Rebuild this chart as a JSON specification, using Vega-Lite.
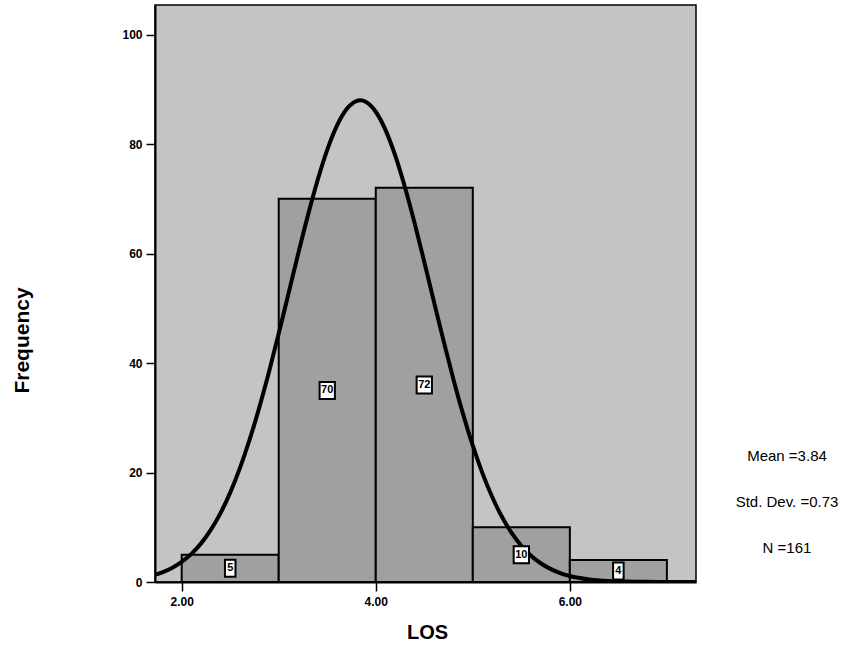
{
  "$schema": "https://vega.github.io/schema/vega-lite/v6.json",
  "autosize": "none",
  "padding": {"left": 155, "top": 5, "right": 148, "bottom": 66},
  "width": 541,
  "height": 577,
  "background": "white",
  "config": {
    "font": "Liberation Sans",
    "view": {"fill": "#c4c4c4", "stroke": "black", "strokeWidth": 1.5},
    "axis": {
      "grid": false,
      "domainColor": "black",
      "domainWidth": 2,
      "tickColor": "black",
      "tickWidth": 1.5,
      "labelColor": "black",
      "labelFont": "Liberation Sans",
      "labelFontSize": 12,
      "labelFontWeight": "bold",
      "titleFont": "Liberation Sans",
      "titleColor": "black",
      "titleFontWeight": "bold"
    }
  },
  "title": {
    "text": ["Mean =3.84", "Std. Dev. =0.73", "N =161"],
    "orient": "top",
    "anchor": "end",
    "frame": "group",
    "align": "center",
    "baseline": "top",
    "offset": 0,
    "dx": 91,
    "dy": 551,
    "lineHeight": 46,
    "font": "Liberation Sans",
    "fontSize": 15,
    "fontWeight": "normal",
    "color": "black"
  },
  "datasets": {
    "bins": [
      {"bin_start": 2, "bin_end": 3, "count": 5},
      {"bin_start": 3, "bin_end": 4, "count": 70},
      {"bin_start": 4, "bin_end": 5, "count": 72},
      {"bin_start": 5, "bin_end": 6, "count": 10},
      {"bin_start": 6, "bin_end": 7, "count": 4}
    ],
    "curve": [
      {"x": 1.7, "y": 1.197}, {"x": 1.8, "y": 1.772}, {"x": 1.9, "y": 2.575},
      {"x": 2.0, "y": 3.672}, {"x": 2.1, "y": 5.139}, {"x": 2.2, "y": 7.055},
      {"x": 2.3, "y": 9.507}, {"x": 2.4, "y": 12.572}, {"x": 2.5, "y": 16.32},
      {"x": 2.6, "y": 20.792}, {"x": 2.7, "y": 25.993}, {"x": 2.8, "y": 31.893},
      {"x": 2.9, "y": 38.402}, {"x": 3.0, "y": 45.385}, {"x": 3.1, "y": 52.636},
      {"x": 3.2, "y": 59.913}, {"x": 3.3, "y": 66.925}, {"x": 3.4, "y": 73.375},
      {"x": 3.5, "y": 78.94}, {"x": 3.6, "y": 83.357}, {"x": 3.7, "y": 86.383},
      {"x": 3.8, "y": 87.854}, {"x": 3.84, "y": 87.986}, {"x": 3.9, "y": 87.689},
      {"x": 4.0, "y": 85.898}, {"x": 4.1, "y": 82.579}, {"x": 4.2, "y": 77.912},
      {"x": 4.3, "y": 72.143}, {"x": 4.4, "y": 65.557}, {"x": 4.5, "y": 58.463},
      {"x": 4.6, "y": 51.175}, {"x": 4.7, "y": 43.958}, {"x": 4.8, "y": 37.055},
      {"x": 4.9, "y": 30.659}, {"x": 5.0, "y": 24.897}, {"x": 5.1, "y": 19.841},
      {"x": 5.2, "y": 15.516}, {"x": 5.3, "y": 11.908}, {"x": 5.4, "y": 8.97},
      {"x": 5.5, "y": 6.631}, {"x": 5.6, "y": 4.811}, {"x": 5.7, "y": 3.425},
      {"x": 5.8, "y": 2.393}, {"x": 5.9, "y": 1.641}, {"x": 6.0, "y": 1.104},
      {"x": 6.2, "y": 0.473}, {"x": 6.4, "y": 0.188}, {"x": 6.6, "y": 0.069},
      {"x": 6.8, "y": 0.023}, {"x": 7.0, "y": 0.007}, {"x": 7.3, "y": 0.001}
    ]
  },
  "layer": [
    {
      "data": {"name": "bins"},
      "mark": {"type": "rect", "fill": "#a0a0a0", "stroke": "black", "strokeWidth": 2},
      "encoding": {
        "x": {
          "field": "bin_start", "type": "quantitative",
          "scale": {"domain": [1.725, 7.3], "nice": false, "zero": false},
          "axis": {
            "values": [2, 4, 6], "format": ".2f", "title": "LOS",
            "tickSize": 9, "labelPadding": 5,
            "titleFontSize": 20, "titleX": 272, "titleY": 50,
            "titleBaseline": "middle", "titleAlign": "center"
          }
        },
        "x2": {"field": "bin_end"},
        "y": {
          "field": "count", "type": "quantitative",
          "scale": {"domain": [0, 105.4], "nice": false},
          "axis": {
            "values": [0, 20, 40, 60, 80, 100], "title": "Frequency",
            "tickSize": 9, "labelPadding": 4,
            "titleFontSize": 21, "titleX": -133, "titleY": 335,
            "titleAngle": -90, "titleBaseline": "middle", "titleAlign": "center"
          }
        },
        "y2": {"datum": 0}
      }
    },
    {
      "data": {"name": "curve"},
      "mark": {"type": "line", "color": "black", "strokeWidth": 4, "clip": true, "interpolate": "monotone"},
      "encoding": {
        "x": {"field": "x", "type": "quantitative"},
        "y": {"field": "y", "type": "quantitative"}
      }
    },
    {
      "data": {"name": "bins"},
      "transform": [
        {"calculate": "(datum.bin_start + datum.bin_end) / 2", "as": "mid"},
        {"calculate": "datum.count / 2", "as": "half"}
      ],
      "layer": [
        {
          "transform": [{"filter": "datum.count < 10"}],
          "mark": {"type": "point", "shape": "M-0.62,-1H0.62V1H-0.62Z", "size": 289, "filled": true, "fill": "white", "stroke": "black", "strokeWidth": 2, "opacity": 1},
          "encoding": {
            "x": {"field": "mid", "type": "quantitative"},
            "y": {"field": "half", "type": "quantitative"}
          }
        },
        {
          "transform": [{"filter": "datum.count >= 10"}],
          "mark": {"type": "point", "shape": "M-0.9,-1H0.9V1H-0.9Z", "size": 289, "filled": true, "fill": "white", "stroke": "black", "strokeWidth": 2, "opacity": 1},
          "encoding": {
            "x": {"field": "mid", "type": "quantitative"},
            "y": {"field": "half", "type": "quantitative"}
          }
        },
        {
          "mark": {"type": "text", "font": "Liberation Sans", "fontSize": 11, "fontWeight": "bold", "color": "black", "baseline": "middle", "align": "center"},
          "encoding": {
            "x": {"field": "mid", "type": "quantitative"},
            "y": {"field": "half", "type": "quantitative"},
            "text": {"field": "count", "type": "quantitative"}
          }
        }
      ]
    }
  ]
}
